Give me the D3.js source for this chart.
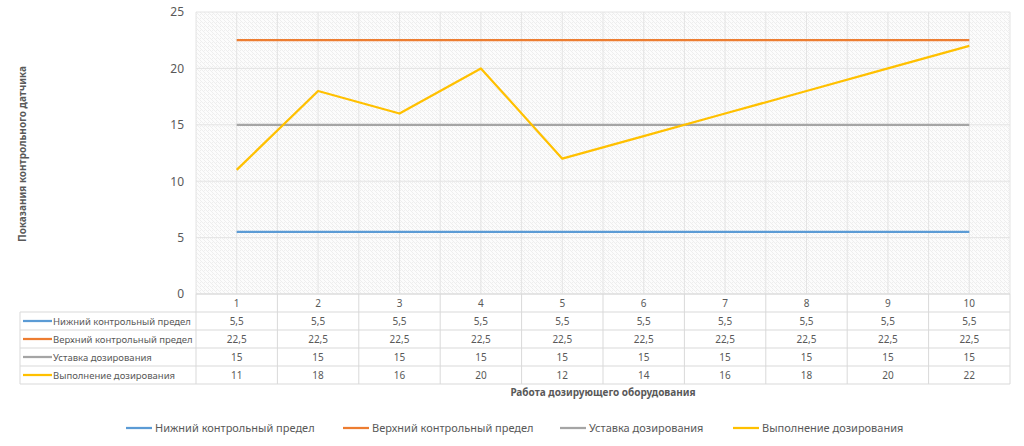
<!DOCTYPE html>
<html>
<head>
<meta charset="utf-8">
<script src="https://cdn.jsdelivr.net/npm/d3@7"></script>
<style>
  body { margin: 0; background: #fff; }
  text { font-family: "Noto Sans", "DejaVu Sans", sans-serif; }
</style>
</head>
<body>
<div id="chart"></div>
<script>
// chart data
var categories = [1, 2, 3, 4, 5, 6, 7, 8, 9, 10];
var seriesNames = ["Нижний контрольный предел", "Верхний контрольный предел", "Уставка дозирования", "Выполнение дозирования"];
var lowerLimit = [5.5, 5.5, 5.5, 5.5, 5.5, 5.5, 5.5, 5.5, 5.5, 5.5];
var upperLimit = [22.5, 22.5, 22.5, 22.5, 22.5, 22.5, 22.5, 22.5, 22.5, 22.5];
var setpoint = [15, 15, 15, 15, 15, 15, 15, 15, 15, 15];
var actual = [11, 18, 16, 20, 12, 14, 16, 18, 20, 22];
var yTicks = [0, 5, 10, 15, 20, 25];
var yTitle = "Показания контрольного датчика";
var xTitle = "Работа дозирующего оборудования";

var colors = ["#5B9BD5", "#ED7D31", "#A5A5A5", "#FFC000"];
var series = [lowerLimit, upperLimit, setpoint, actual];

var width = 1024, height = 446;
var plotL = 196, plotR = 1010, plotT = 12, plotB = 294;
var rowH = 18, tableLeft = 20;
var gridCol = "#d9d9d9", textCol = "#595959";

var svg = d3.select("#chart").append("svg")
    .attr("width", width)
    .attr("height", height);

// hatch pattern for plot background
var pat = svg.append("defs").append("pattern")
    .attr("id", "hatch")
    .attr("patternUnits", "userSpaceOnUse")
    .attr("width", 4).attr("height", 4);
pat.append("rect").attr("width", 4).attr("height", 4).attr("fill", "#fcfcfc");
pat.append("path")
    .attr("d", "M-1,1 l2,2 M0,0 l4,4 M3,-1 l2,2")
    .attr("stroke", "#ebebeb")
    .attr("stroke-width", 0.8);

var x = d3.scaleBand().domain(categories).range([plotL, plotR]);
var y = d3.scaleLinear().domain([0, 25]).range([plotB, plotT]);

svg.append("rect")
    .attr("x", plotL).attr("y", plotT)
    .attr("width", plotR - plotL).attr("height", plotB - plotT)
    .attr("fill", "url(#hatch)");

// horizontal gridlines
svg.selectAll(".hgrid").data(yTicks).enter().append("line")
    .attr("x1", plotL).attr("x2", plotR)
    .attr("y1", function (d) { return y(d); })
    .attr("y2", function (d) { return y(d); })
    .attr("stroke", "#e4e4e4").attr("stroke-width", 1);

// vertical gridlines at band edges and centers
var vgrid = [];
categories.forEach(function (c) {
    vgrid.push(x(c));
    vgrid.push(x(c) + x.bandwidth() / 2);
});
vgrid.push(plotR);
svg.selectAll(".vgrid").data(vgrid).enter().append("line")
    .attr("x1", function (d) { return d; }).attr("x2", function (d) { return d; })
    .attr("y1", plotT).attr("y2", plotB)
    .attr("stroke", "#e4e4e4").attr("stroke-width", 1);

// y axis labels
var yAxis = d3.axisLeft(y).tickValues(yTicks).tickSize(0).tickPadding(12);
var gy = svg.append("g").attr("transform", "translate(" + plotL + ",0)").call(yAxis);
gy.select(".domain").remove();
gy.selectAll("text")
    .attr("fill", textCol)
    .style("font-size", "12px")
    .style("font-family", "'Noto Sans', sans-serif");

// lines
var line = d3.line()
    .x(function (d, i) { return x(categories[i]) + x.bandwidth() / 2; })
    .y(function (d) { return y(d); });

series.forEach(function (s, i) {
    svg.append("path")
        .datum(s)
        .attr("d", line)
        .attr("fill", "none")
        .attr("stroke", colors[i])
        .attr("stroke-width", 2.25)
        .attr("stroke-linejoin", "round");
});

// data table
var tableBottom = plotB + rowH * (series.length + 1);
svg.append("line")
    .attr("x1", plotL).attr("x2", plotR)
    .attr("y1", plotB).attr("y2", plotB)
    .attr("stroke", gridCol);
for (var r = 1; r <= series.length + 1; r++) {
    svg.append("line")
        .attr("x1", tableLeft).attr("x2", plotR)
        .attr("y1", plotB + r * rowH).attr("y2", plotB + r * rowH)
        .attr("stroke", gridCol);
}
var colEdges = categories.map(function (c) { return x(c); }).concat([plotR]);
svg.selectAll(".tcol").data(colEdges).enter().append("line")
    .attr("x1", function (d) { return d; }).attr("x2", function (d) { return d; })
    .attr("y1", plotB).attr("y2", tableBottom)
    .attr("stroke", gridCol);
svg.append("line")
    .attr("x1", tableLeft).attr("x2", tableLeft)
    .attr("y1", plotB + rowH).attr("y2", tableBottom)
    .attr("stroke", gridCol);

// header row
svg.selectAll(".thead").data(categories).enter().append("text")
    .attr("x", function (d) { return x(d) + x.bandwidth() / 2; })
    .attr("y", plotB + rowH / 2 + 3.5)
    .attr("text-anchor", "middle")
    .attr("fill", textCol)
    .style("font-size", "10px")
    .text(function (d) { return d; });

function fmt(v) { return String(v).replace(".", ","); }

series.forEach(function (s, i) {
    var cy = plotB + rowH * (i + 1) + rowH / 2;
    svg.append("line")
        .attr("x1", tableLeft + 3).attr("x2", tableLeft + 32)
        .attr("y1", cy).attr("y2", cy)
        .attr("stroke", colors[i]).attr("stroke-width", 2.25);
    svg.append("text")
        .attr("x", tableLeft + 33).attr("y", cy + 3.5)
        .attr("fill", textCol)
        .style("font-size", "9.5px")
        .text(seriesNames[i]);
    svg.selectAll(".cell" + i).data(s).enter().append("text")
        .attr("x", function (d, j) { return x(categories[j]) + x.bandwidth() / 2; })
        .attr("y", cy + 3.5)
        .attr("text-anchor", "middle")
        .attr("fill", textCol)
        .style("font-size", "10px")
        .text(function (d) { return fmt(d); });
});

// axis titles
svg.append("text")
    .attr("x", (plotL + plotR) / 2).attr("y", 396)
    .attr("text-anchor", "middle")
    .attr("fill", textCol)
    .style("font-size", "10px").style("font-weight", "bold")
    .text(xTitle);

svg.append("text")
    .attr("transform", "translate(26,154) rotate(-90)")
    .attr("text-anchor", "middle")
    .attr("fill", textCol)
    .style("font-size", "10px").style("font-weight", "bold")
    .text(yTitle);

// legend
var legendX = [126, 343, 560, 733];
var leg = svg.selectAll(".leg").data(seriesNames).enter().append("g")
    .attr("transform", function (d, i) { return "translate(" + legendX[i] + ",428)"; });
leg.append("line")
    .attr("x1", 0).attr("x2", 26)
    .attr("stroke", function (d, i) { return colors[i]; })
    .attr("stroke-width", 2.25);
leg.append("text")
    .attr("x", 29).attr("y", 4)
    .attr("fill", textCol)
    .style("font-size", "11px")
    .text(function (d) { return d; });
</script>
</body>
</html>
